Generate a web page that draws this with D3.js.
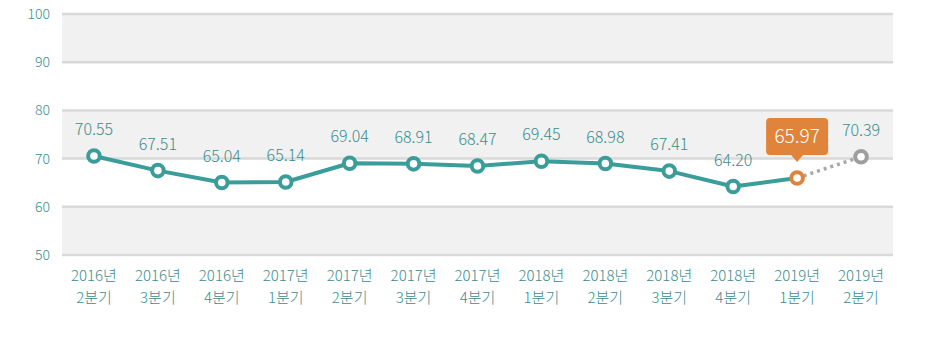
<!DOCTYPE html>
<html>
<head>
<meta charset="utf-8">
<script src="https://cdn.jsdelivr.net/npm/d3@7"></script>
<style>
  body { margin: 0; background: #fff; }
  svg text { font-family: "Noto Sans CJK KR", "Noto Sans", sans-serif; font-weight: 300; }
</style>
</head>
<body>
<svg id="chart" width="946" height="355"></svg>
<script>
// quarters shown on the x axis (year line, quarter line)
const years = ["2016년","2016년","2016년","2017년","2017년","2017년","2017년","2018년","2018년","2018년","2018년","2019년","2019년"];
const quarters = ["2분기","3분기","4분기","1분기","2분기","3분기","4분기","1분기","2분기","3분기","4분기","1분기","2분기"];
const values = [70.55, 67.51, 65.04, 65.14, 69.04, 68.91, 68.47, 69.45, 68.98, 67.41, 64.20, 65.97, 70.39];
const yTicks = [50, 60, 70, 80, 90, 100];

const teal = "#3a9d99";
const labelColor = "#3b8d8d";
const orange = "#e0843c";
const grayPt = "#9e9e9e";

const svg = d3.select("#chart");
const plotL = 62, plotR = 893, plotT = 14, plotB = 255;

const x = d3.scaleBand().domain(d3.range(values.length)).range([plotL, plotR]);
const cx = i => x(i) + x.bandwidth() / 2;
const y = d3.scaleLinear().domain([50, 100]).range([plotB, plotT]);
const n = values.length;
const hi = n - 2;

// alternating bands
const bands = [[90,100],[70,80],[50,60]];
svg.append("g").selectAll("rect").data(bands).join("rect")
  .attr("x", plotL).attr("width", plotR - plotL)
  .attr("y", d => y(d[1])).attr("height", d => y(d[0]) - y(d[1]))
  .attr("fill", "#f1f1f1");

// grid lines
svg.append("g").selectAll("line").data(yTicks).join("line")
  .attr("x1", plotL).attr("x2", plotR)
  .attr("y1", d => y(d)).attr("y2", d => y(d))
  .attr("stroke", "#d9d9d9").attr("stroke-width", 2.5);

// y labels
svg.append("g").selectAll("text").data(yTicks).join("text")
  .attr("x", 50).attr("y", d => y(d)).attr("dy", "0.35em")
  .attr("text-anchor", "end").attr("font-size", 14).attr("fill", labelColor)
  .text(d => d);

// x labels
const xl = svg.append("g").selectAll("text").data(values).join("text")
  .attr("text-anchor", "middle").attr("font-size", 15).attr("fill", labelColor);
xl.append("tspan").attr("x", (d, i) => cx(i)).attr("y", 281).text((d, i) => years[i]);
xl.append("tspan").attr("x", (d, i) => cx(i)).attr("y", 303).text((d, i) => quarters[i]);

const line = d3.line().x((d, i) => cx(i)).y(d => y(d));

// forecast segment
svg.append("path")
  .attr("d", d3.line().x(d => cx(d)).y(d => y(values[d]))([n - 2, n - 1]))
  .attr("fill", "none").attr("stroke", "#a8a8a8").attr("stroke-width", 3.5)
  .attr("stroke-dasharray", "3,4");

// main line
svg.append("path")
  .attr("d", line(values.slice(0, n - 1)))
  .attr("fill", "none").attr("stroke", teal).attr("stroke-width", 4)
  .attr("stroke-linejoin", "round");

// markers
svg.append("g").selectAll("circle").data(values).join("circle")
  .attr("cx", (d, i) => cx(i)).attr("cy", d => y(d)).attr("r", 5.8)
  .attr("fill", "#fff").attr("stroke-width", 4)
  .attr("stroke", (d, i) => i === n - 1 ? grayPt : i === hi ? orange : teal);

// value labels
const labelled = values.map((v, i) => ({ v, i })).filter(d => d.i !== hi);
svg.append("g").selectAll("text").data(labelled).join("text")
  .attr("x", d => cx(d.i)).attr("y", d => y(d.v) - 21)
  .attr("text-anchor", "middle").attr("font-size", 16).attr("fill", labelColor)
  .text(d => d.v.toFixed(2));

// highlighted callout
const hx = cx(hi), hy = y(values[hi]);
const bw = 62, bh = 37, by = hy - 60;
svg.append("path")
  .attr("d", `M${hx - bw / 2 + 4},${by}h${bw - 8}q4,0 4,4v${bh - 8}q0,4 -4,4h${-(bw / 2 - 10)}l-6,7l-6,-7h${-(bw / 2 - 10)}q-4,0 -4,-4v${-(bh - 8)}q0,-4 4,-4z`)
  .attr("fill", orange);
svg.append("text")
  .attr("x", hx).attr("y", by + bh / 2).attr("dy", "0.35em")
  .attr("text-anchor", "middle").attr("font-size", 19).attr("fill", "#fff")
  .text(values[hi].toFixed(2));
</script>
</body>
</html>
